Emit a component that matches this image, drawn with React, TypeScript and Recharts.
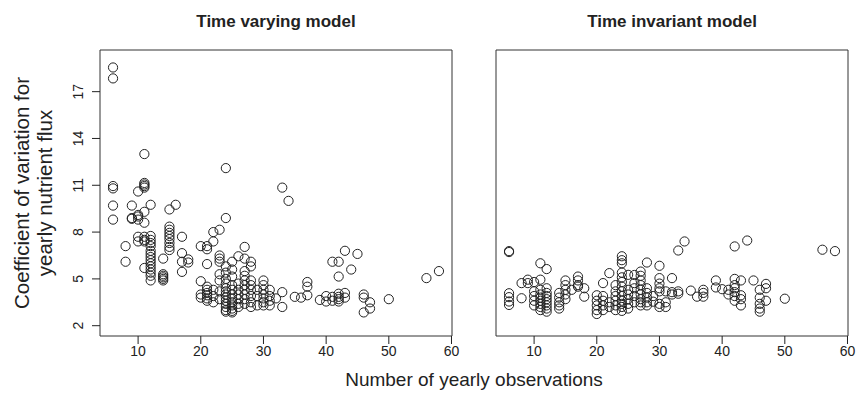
import React from 'react';
import { ScatterChart, Scatter, XAxis, YAxis, ReferenceArea } from 'recharts';

const timeVarying: [number, number[]][] = [
  [6, [18.55, 17.85, 10.95, 10.8, 9.7, 8.8]],
  [8, [7.1, 6.1]],
  [9, [9.7, 8.9, 8.85]],
  [10, [10.6, 9.1, 9.0, 8.8, 7.7, 7.4]],
  [11, [13.0, 11.15, 11.05, 10.95, 10.85, 9.3, 8.6, 7.7, 7.5, 7.4, 5.7]],
  [12, [9.75, 7.75, 7.5, 7.3, 7.1, 6.8, 6.6, 6.4, 6.2, 6.0, 5.8, 5.6, 5.4, 5.2, 4.9]],
  [14, [6.3, 5.3, 5.2, 5.1, 5.0, 4.9]],
  [15, [9.45, 8.35, 8.15, 7.95, 7.75, 7.55, 7.3, 7.05, 6.85]],
  [16, [9.75]],
  [17, [7.7, 6.65, 6.1, 5.45]],
  [18, [6.25, 6.05]],
  [20, [7.1, 4.85, 4.0, 3.8]],
  [21, [7.1, 6.9, 5.95, 4.5, 4.3, 4.1, 3.95, 3.75, 3.6]],
  [22, [8.0, 7.4, 4.3, 3.9, 3.5]],
  [23, [8.15, 6.5, 6.3, 6.1, 5.3, 4.9, 4.2, 3.7]],
  [24, [12.1, 8.9, 5.8, 5.4, 5.0, 4.7, 4.4, 4.2, 4.0, 3.8, 3.6, 3.4, 3.2, 3.0, 2.9]],
  [25, [6.1, 5.6, 5.15, 4.6, 4.3, 4.0, 3.75, 3.5, 3.3, 3.1, 2.95, 2.85]],
  [26, [6.45, 4.7, 4.3, 4.0, 3.7, 3.4, 3.2]],
  [27, [7.05, 6.3, 5.5, 5.2, 4.9, 4.6, 4.3, 4.0, 3.7, 3.4]],
  [28, [6.1, 5.8, 4.9, 4.6, 4.3, 3.9, 3.5, 3.2]],
  [29, [4.3, 3.9, 3.3]],
  [30, [4.9, 4.6, 4.3, 4.0, 3.75, 3.5, 3.3]],
  [31, [4.3, 3.9, 3.6, 3.3]],
  [32, [3.75]],
  [33, [10.85, 4.15, 3.2]],
  [34, [10.0]],
  [35, [3.85]],
  [36, [3.8]],
  [37, [4.8, 4.5, 3.95]],
  [39, [3.65]],
  [40, [3.9, 3.55]],
  [41, [6.1, 3.85, 3.6]],
  [42, [6.1, 5.15, 4.05, 3.85, 3.7, 3.55]],
  [43, [6.8, 4.1, 3.8]],
  [44, [5.6]],
  [45, [6.6]],
  [46, [4.0, 3.8, 2.85]],
  [47, [3.5, 3.1]],
  [50, [3.7]],
  [56, [5.05]],
  [58, [5.5]],
];

const timeInvariant: [number, number[]][] = [
  [6, [6.78, 6.72, 4.08, 3.83, 3.55, 3.33]],
  [8, [4.73, 3.76]],
  [9, [4.95, 4.73]],
  [10, [4.8, 4.2, 3.9, 3.6, 3.3]],
  [11, [6.0, 4.95, 4.3, 4.0, 3.8, 3.6, 3.4, 3.2, 3.0]],
  [12, [5.63, 4.4, 4.1, 3.9, 3.7, 3.5, 3.3, 3.1, 2.9]],
  [14, [4.1, 3.8, 3.5, 3.3, 3.1]],
  [15, [4.9, 4.6, 4.3, 4.0, 3.7]],
  [16, [4.3]],
  [17, [5.15, 4.9, 4.6, 4.5]],
  [18, [4.4, 3.86]],
  [20, [3.95, 3.6, 3.3, 3.0, 2.75]],
  [21, [4.73, 3.9, 3.6, 3.3, 3.0]],
  [22, [5.37, 3.5, 3.2]],
  [23, [4.6, 4.2, 3.9, 3.6, 3.3, 3.0]],
  [24, [6.45, 6.2, 6.0, 5.4, 5.1, 4.8, 4.5, 4.2, 3.9, 3.6, 3.4, 3.2, 2.95]],
  [25, [5.26, 4.3, 4.0, 3.7, 3.4, 3.1]],
  [26, [5.25, 4.73, 4.4, 3.9, 3.5]],
  [27, [5.47, 5.2, 4.9, 4.6, 4.3, 4.0, 3.7, 3.5, 3.3]],
  [28, [6.05, 4.4, 4.1, 3.8, 3.5, 3.3]],
  [29, [3.9, 3.54]],
  [30, [5.84, 5.05, 4.7, 4.4, 4.2, 3.4, 3.2]],
  [31, [4.2, 3.5, 3.2]],
  [32, [5.05, 4.15, 4.0]],
  [33, [6.82, 4.2, 4.05]],
  [34, [7.4]],
  [35, [4.25]],
  [36, [3.86]],
  [37, [4.3, 4.1, 3.86]],
  [39, [4.9, 4.45]],
  [40, [4.34]],
  [41, [4.3, 4.0]],
  [42, [7.08, 5.0, 4.6, 4.4, 4.15, 3.9, 3.6]],
  [43, [4.9, 3.95, 3.7, 3.3]],
  [44, [7.46]],
  [45, [4.9]],
  [46, [4.3, 3.8, 3.4, 3.1, 2.9]],
  [47, [4.68, 4.4, 3.6]],
  [50, [3.73]],
  [56, [6.87]],
  [58, [6.78]],
];

const xTicks = [10, 20, 30, 40, 50, 60];
const yTicks = [2, 5, 8, 11, 14, 17];
const xDomain: [number, number] = [3.92, 60.08];
const yDomain: [number, number] = [1.34, 19.67];

const FONT = '"Liberation Sans", Arial, Helvetica, sans-serif';
const INK = '#222';

const flatten = (groups: [number, number[]][]) =>
  groups.flatMap(([n, cvs]) => cvs.map(cv => ({ n, cv })));

const OpenCircle = (props: any) => {
  const { cx, cy } = props;
  if (cx == null || cy == null) return null;
  return <circle cx={cx} cy={cy} r={4.6} fill="none" stroke={INK} strokeWidth={1} />;
};

const YTick = ({ x, y, payload }: any) => {
  const bx = x - 7;
  return (
    <text
      x={bx}
      y={y}
      transform={`rotate(-90 ${bx} ${y})`}
      textAnchor="middle"
      fontSize={14}
      fontFamily={FONT}
      fill={INK}
    >
      {payload.value}
    </text>
  );
};

function Panel({ data, showY }: { data: { n: number; cv: number }[]; showY: boolean }) {
  return (
    <ScatterChart
      width={showY ? 460 : 368}
      height={402}
      margin={{ top: 50, right: 8, bottom: 36, left: showY ? 0 : 8 }}
    >
      <XAxis
        type="number"
        dataKey="n"
        domain={xDomain}
        ticks={xTicks}
        allowDataOverflow
        axisLine={false}
        tickSize={8}
        height={30}
        tickLine={{ stroke: INK }}
        tick={{ fill: INK, fontSize: 14, fontFamily: FONT }}
      />
      <YAxis
        type="number"
        dataKey="cv"
        domain={yDomain}
        ticks={yTicks}
        allowDataOverflow
        hide={!showY}
        width={100}
        axisLine={false}
        tickSize={8}
        tickLine={{ stroke: INK }}
        tick={<YTick />}
      />
      <ReferenceArea
        x1={xDomain[0]}
        x2={xDomain[1]}
        y1={yDomain[0]}
        y2={yDomain[1]}
        fill="none"
        fillOpacity={0}
        stroke="#333"
        strokeWidth={1}
        ifOverflow="visible"
      />
      <Scatter data={data} shape={OpenCircle} isAnimationActive={false} />
    </ScatterChart>
  );
}

const titleStyle: React.CSSProperties = {
  position: 'absolute',
  top: 12,
  fontFamily: FONT,
  fontWeight: 'bold',
  fontSize: 17,
  color: INK,
  textAlign: 'center',
  width: 300,
};

export default function App() {
  return (
    <div
      style={{
        position: 'absolute',
        left: 0,
        top: 0,
        width: 859,
        height: 402,
        background: '#fff',
        overflow: 'hidden',
      }}
    >
      <div style={{ position: 'absolute', left: 0, top: 0 }}>
        <Panel data={flatten(timeVarying)} showY />
      </div>
      <div style={{ position: 'absolute', left: 488, top: 0 }}>
        <Panel data={flatten(timeInvariant)} showY={false} />
      </div>
      <div style={{ ...titleStyle, left: 276 - 150 }}>Time varying model</div>
      <div style={{ ...titleStyle, left: 672 - 150 }}>Time invariant model</div>
      <div
        style={{
          position: 'absolute',
          left: 474 - 200,
          top: 369,
          width: 400,
          textAlign: 'center',
          fontFamily: FONT,
          fontSize: 19,
          color: INK,
        }}
      >
        Number of yearly observations
      </div>
      <div
        style={{
          position: 'absolute',
          left: 33 - 150,
          top: 193 - 23,
          width: 300,
          height: 46,
          transform: 'rotate(-90deg)',
          textAlign: 'center',
          fontFamily: FONT,
          fontSize: 20.5,
          lineHeight: '23px',
          color: INK,
        }}
      >
        Coefficient of variation for
        <br />
        yearly nutrient flux
      </div>
    </div>
  );
}
